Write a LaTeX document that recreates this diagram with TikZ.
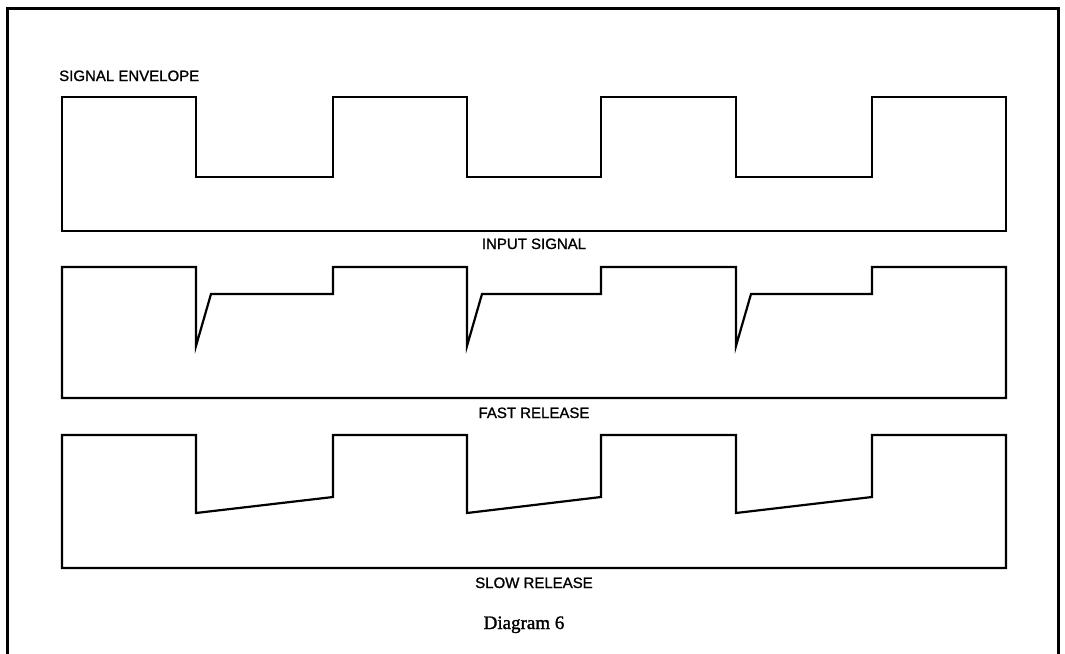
\documentclass[tikz,border=0pt]{standalone}
\usepackage{fontspec}
\usepackage{tikz}
\newfontfamily\labelfont[FakeBold=1.2]{Liberation Sans}
\newfontfamily\captionfont[FakeBold=1.5]{Liberation Serif}
\tikzset{
	wave/.style={line width=2.2pt},
	outline/.style={line width=3pt},
	tag/.style={font=\labelfont\fontsize{15}{16}\selectfont, inner sep=0pt},
}

\begin{document}
\begin{tikzpicture}[x=1pt, y=-1pt]
			%%%%% START %%%%%
			\useasboundingbox (0, 0) rectangle (1065, 653);
			
			\draw[outline] (7, 656) -- (7, 8) -- (1058, 8) -- (1058, 656);
			
			\node[tag, anchor=base west] (envelope) at (59, 81) {SIGNAL ENVELOPE};
			
			% input signal
			\draw[wave] (62, 231) -- (62, 97) -- (196, 97) -- (196, 177) -- (333, 177) -- (333, 97)
				-- (467, 97) -- (467, 177) -- (601, 177) -- (601, 97) -- (736, 97) -- (736, 177)
				-- (872, 177) -- (872, 97) -- (1006, 97) -- (1006, 231) -- cycle;
			\node[tag, anchor=base] (input) at (534, 249) {INPUT SIGNAL};
			
			% fast release
			\draw[wave] (62, 398) -- (62, 267) -- (196, 267) -- (196, 346) -- (211, 294) -- (333, 294) -- (333, 267)
				-- (467, 267) -- (467, 346) -- (482, 294) -- (601, 294) -- (601, 267) -- (736, 267) -- (736, 346)
				-- (751, 294) -- (872, 294) -- (872, 267) -- (1006, 267) -- (1006, 398) -- cycle;
			\node[tag, anchor=base] (fast) at (534, 418) {FAST RELEASE};
			
			% slow release
			\draw[wave] (62, 568) -- (62, 435) -- (196, 435) -- (196, 513) -- (333, 497) -- (333, 435)
				-- (467, 435) -- (467, 513) -- (601, 497) -- (601, 435) -- (736, 435) -- (736, 513)
				-- (872, 497) -- (872, 435) -- (1006, 435) -- (1006, 568) -- cycle;
			\node[tag, anchor=base] (slow) at (534, 588) {SLOW RELEASE};
			
			\node[font=\captionfont\fontsize{19}{21}\selectfont, anchor=base] (caption) at (524, 629) {Diagram 6};
			%%%%% END %%%%%
\end{tikzpicture}
\end{document}
